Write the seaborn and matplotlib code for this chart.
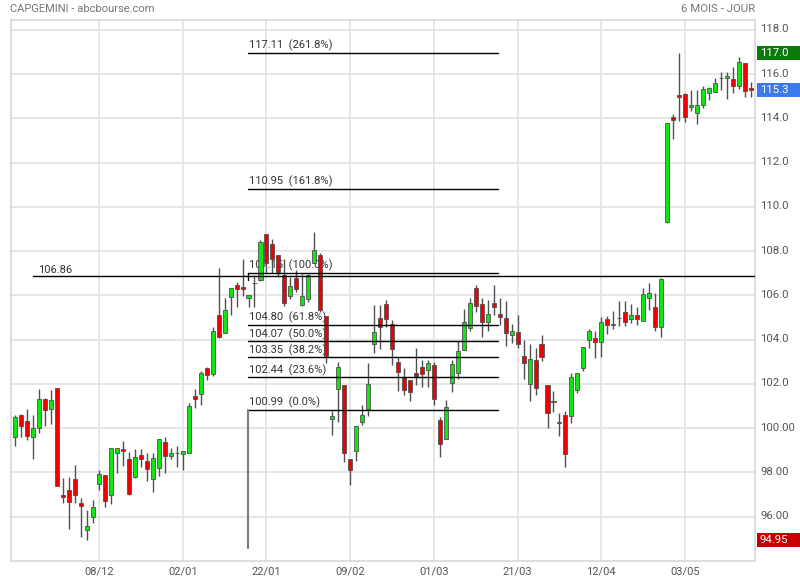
import numpy as np
import matplotlib
matplotlib.use("Agg")
import matplotlib.pyplot as plt
import matplotlib.transforms as mtransforms
from matplotlib.patches import Rectangle
import seaborn as sns

# daily candles (oldest first)
opens = [99.60, 100.59, 100.32, 99.60, 100.00, 101.31, 100.86, 101.81, 96.98, 97.20,
         97.70, 96.62, 95.40, 95.99, 97.48, 97.88, 96.98, 98.87, 99.05, 98.60,
         97.79, 98.78, 98.51, 97.70, 98.20, 99.39, 98.74, 98.87, 98.83, 98.87,
         101.45, 101.54, 102.71, 102.44, 105.10, 104.29, 105.92, 106.46, 106.37, 105.87,
         106.55, 106.70, 108.76, 108.31, 107.83, 106.93, 105.99, 106.78, 105.57, 105.84,
         107.45, 107.83, 105.07, 100.41, 101.76, 101.96, 98.60, 98.95, 100.30, 100.86,
         103.80, 104.97, 105.62, 104.71, 102.98, 102.29, 102.17, 102.49, 102.76, 102.61,
         102.85, 100.36, 99.51, 102.03, 102.49, 103.52, 104.52, 106.32, 105.60, 104.79,
         105.65, 105.17, 104.97, 104.19, 104.34, 103.25, 101.99, 103.07, 103.79, 101.94,
         101.18, 100.23, 100.59, 100.57, 101.73, 102.70, 103.97, 104.07, 103.89, 104.92,
         104.67, 104.97, 105.24, 104.92, 105.10, 104.82, 105.90, 105.47, 104.55, 109.33,
         114.04, 115.04, 115.08, 114.52, 114.23, 114.58, 115.13, 115.17, 115.80, 115.83,
         115.76, 115.47, 116.48, 115.35]
highs = [100.61, 100.62, 100.86, 100.61, 101.76, 101.37, 101.72, 101.81, 97.75, 97.79,
         98.33, 96.84, 96.32, 96.75, 98.11, 97.88, 99.10, 99.10, 99.43, 98.92,
         99.06, 99.06, 98.87, 98.87, 99.51, 99.61, 99.10, 99.19, 98.96, 101.13,
         101.76, 102.58, 102.76, 104.56, 107.23, 105.87, 106.32, 106.59, 107.63, 106.01,
         106.93, 108.51, 108.76, 108.55, 107.83, 107.63, 106.82, 107.15, 106.96, 106.96,
         108.85, 107.90, 105.07, 100.76, 102.97, 101.96, 98.60, 100.11, 101.06, 102.94,
         105.57, 105.57, 105.80, 104.89, 103.20, 102.71, 102.17, 103.62, 103.09, 103.09,
         102.98, 100.52, 101.28, 103.09, 103.92, 105.38, 105.87, 106.47, 105.87, 105.80,
         106.47, 105.87, 105.75, 104.71, 105.12, 103.99, 103.81, 103.62, 104.22, 101.94,
         101.69, 100.70, 100.77, 102.49, 102.49, 103.66, 104.47, 104.38, 105.04, 105.09,
         105.28, 105.75, 105.75, 105.60, 105.46, 106.32, 106.55, 106.10, 106.77, 113.80,
         114.19, 116.96, 115.13, 115.28, 115.28, 115.46, 115.43, 115.80, 116.07, 116.07,
         116.30, 116.75, 116.48, 115.62]
lows = [99.18, 99.58, 99.45, 98.59, 99.76, 100.12, 100.21, 97.38, 96.60, 95.43,
        96.60, 95.08, 94.95, 95.70, 97.19, 96.44, 96.57, 97.97, 98.27, 96.98,
        97.75, 98.24, 97.60, 97.10, 97.82, 97.97, 98.60, 98.24, 98.12, 98.87,
        100.91, 101.04, 102.17, 102.35, 104.07, 104.29, 105.10, 105.47, 105.96, 105.47,
        105.47, 106.65, 107.00, 107.00, 106.82, 105.50, 105.84, 106.13, 105.50, 105.69,
        107.45, 105.24, 102.94, 99.67, 100.26, 98.45, 97.42, 98.50, 100.15, 100.57,
        103.39, 103.57, 104.56, 102.86, 101.70, 101.51, 101.21, 101.93, 101.84, 101.84,
        101.06, 98.72, 99.51, 101.63, 102.22, 103.52, 104.41, 105.27, 104.14, 104.41,
        105.12, 104.67, 103.72, 103.87, 103.64, 102.23, 101.21, 101.48, 103.03, 99.99,
        100.73, 99.63, 98.24, 100.23, 101.58, 102.58, 103.64, 103.19, 103.21, 104.25,
        104.47, 104.62, 104.62, 104.74, 104.64, 104.82, 105.35, 104.41, 104.10, 109.29,
        113.08, 113.89, 113.85, 114.34, 113.73, 114.45, 114.83, 115.17, 115.28, 114.87,
        115.16, 115.32, 114.98, 114.98]
closes = [100.50, 100.12, 99.63, 100.00, 101.31, 100.80, 101.27, 97.38, 96.89, 96.66,
          96.98, 96.48, 95.58, 96.44, 97.93, 96.71, 99.10, 99.10, 98.97, 97.02,
          98.69, 98.60, 98.15, 98.65, 99.51, 98.74, 98.87, 98.87, 98.96, 101.00,
          101.31, 102.49, 102.40, 104.38, 104.11, 105.33, 106.32, 106.28, 106.28, 106.01,
          106.55, 108.43, 107.45, 107.63, 107.05, 105.65, 106.44, 106.28, 105.98, 106.93,
          108.05, 105.32, 103.24, 100.56, 102.76, 98.90, 98.09, 100.11, 100.61, 101.99,
          104.34, 104.56, 104.92, 103.57, 102.53, 101.72, 101.63, 102.38, 102.44, 102.94,
          101.31, 99.28, 100.95, 102.89, 103.48, 104.79, 105.65, 105.53, 104.79, 105.17,
          105.47, 105.01, 104.29, 104.40, 103.79, 102.94, 103.12, 101.81, 103.21, 100.68,
          101.18, 100.23, 98.83, 102.31, 102.49, 103.66, 104.38, 103.89, 104.79, 104.65,
          104.67, 104.97, 104.79, 105.10, 104.95, 106.05, 106.10, 104.55, 106.73, 113.80,
          113.94, 114.98, 114.04, 114.58, 114.58, 115.31, 115.35, 115.58, 115.80, 115.91,
          115.47, 116.53, 115.25, 115.28]

date_ticks = [14, 28, 42, 56, 70, 84, 98, 112]
date_labels = ["08/12", "02/01", "22/01", "09/02", "01/03", "21/03", "12/04", "03/05"]
price_ticks = [96, 98, 100, 102, 104, 106, 108, 110, 112, 114, 116, 118]
price_labels = ["96.00", "98.00", "100.00", "102.0", "104.0", "106.0", "108.0",
                "110.0", "112.0", "114.0", "116.0", "118.0"]

# Fibonacci retracement drawn on the chart
fib_levels = [100.99, 102.44, 103.35, 104.07, 104.80, 107.15, 110.95, 117.11]
fib_pct = [0.0, 23.6, 38.2, 50.0, 61.8, 100.0, 161.8, 261.8]
fib_start, fib_end = 38.9, 80.7
support = 106.86

GREEN = "#12e612"
RED = "#f20000"
WICK = "#505050"

sns.set_theme(style="white")
plt.rcParams["font.family"] = ["Roboto", "DejaVu Sans"]

fig = plt.figure(figsize=(8, 5.8), dpi=100)
ax = fig.add_axes([11 / 800, 1 - 561 / 580, 744 / 800, 541 / 580])

o = np.array(opens)
h = np.array(highs)
l = np.array(lows)
c = np.array(closes)
idx = np.arange(len(o))
up = c >= o
body_bottom = np.minimum(o, c)
body_h = np.maximum(np.abs(c - o), 0.03)

# candles
ax.vlines(idx, l, h, color=WICK, lw=1.0, zorder=3)
ax.bar(idx, body_h, bottom=body_bottom, width=0.68,
       color=np.where(up, GREEN, RED), edgecolor=WICK, linewidth=0.6, zorder=4)

# fib lines sit a few pixels under their value on the original
fib_tr = mtransforms.offset_copy(ax.transData, fig=fig, x=0, y=-3.3, units="dots")
txt_tr = mtransforms.offset_copy(ax.transData, fig=fig, x=0, y=-1.5, units="dots")
for lev, pct in zip(fib_levels, fib_pct):
    ax.plot([fib_start, fib_end], [lev, lev], color="black", lw=1.0,
            transform=fib_tr, zorder=5)
    ax.text(fib_start + 0.15, lev, f"{lev:.2f}  ({pct:.1f}%)", transform=txt_tr,
            fontsize=8, color="#333333", va="bottom", ha="left", zorder=2)
ax.plot([fib_start, fib_start], [fib_levels[0], 94.72], color="#808080", lw=1.6,
        transform=fib_tr, zorder=5)
ax.plot([fib_start, fib_start], [fib_levels[5], support], color="black", lw=1.0,
        transform=fib_tr, zorder=5)

# horizontal support line
ax.plot([2.96, 124], [support, support], color="black", lw=1.0, zorder=5)
ax.text(3.8, support + 0.08, f"{support:.2f}", fontsize=8, color="#333333",
        va="bottom", ha="left", zorder=2)

ax.set_xlim(-0.72, 123.7)
ax.set_ylim(94.0, 118.44)
ax.set_xticks(date_ticks)
ax.set_xticklabels(date_labels)
ax.set_yticks(price_ticks)
ax.set_yticklabels(price_labels)
ax.yaxis.tick_right()
ax.tick_params(axis="y", length=0, labelsize=8.2, colors="#555555", pad=4)
ax.tick_params(axis="x", length=0, labelsize=8, colors="#555555", pad=4)
lab_tr = mtransforms.ScaledTranslation(0, 1.5 / 100, fig.dpi_scale_trans)
for lab in ax.get_yticklabels():
    lab.set_transform(lab.get_transform() + lab_tr)
ax.grid(True, color="#e2e2e2", lw=1.2)
ax.set_axisbelow(True)
for sp in ax.spines.values():
    sp.set_color("#d8d8d8")
    sp.set_linewidth(1.2)

# last / high / low price tags on the right axis
tag_tr = mtransforms.blended_transform_factory(fig.transFigure, ax.transData)
tag_h = 14 / 22.14
tags = [(h.max(), "#0a7a0a", f"{h.max():.1f}"),
        (c[-1], "#3b79f0", f"{c[-1]:.1f}"),
        (l.min(), "#c80000", f"{l.min():.2f}")]
for val, col, txt in tags:
    ax.add_patch(Rectangle((757 / 800, val - tag_h / 2), 43 / 800, tag_h,
                           transform=tag_tr, fc=col, ec="none",
                           clip_on=False, zorder=6))
    ax.text(760 / 800, val, txt, transform=tag_tr, color="white", fontsize=8.2,
            va="center", ha="left", clip_on=False, zorder=7)

fig.text(10 / 800, 1 - 9 / 580, "CAPGEMINI - abcbourse.com", fontsize=8,
         color="#777777", va="center", ha="left")
fig.text(755 / 800, 1 - 9 / 580, "6 MOIS - JOUR", fontsize=8.2,
         color="#777777", va="center", ha="right")

fig.savefig("out.png", dpi=100)
